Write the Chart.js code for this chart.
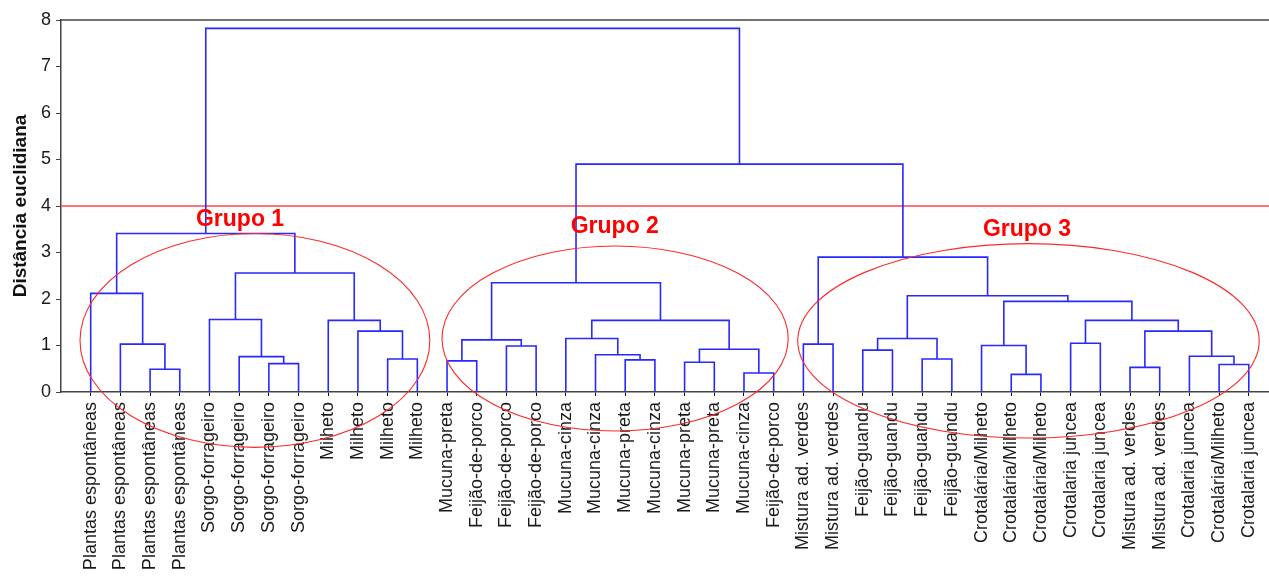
<!DOCTYPE html>
<html>
<head>
<meta charset="utf-8">
<script src="https://cdn.jsdelivr.net/npm/chart.js@4.4.1/dist/chart.umd.min.js"></script>
<style>
  html, body { margin: 0; padding: 0; background: #fff; }
</style>
</head>
<body>
<canvas id="myChart" width="1269" height="577"></canvas>
<script>
// leaves of the dendrogram, left to right
const leafLabels = [
  'Plantas espontâneas', 'Plantas espontâneas', 'Plantas espontâneas', 'Plantas espontâneas',
  'Sorgo-forrageiro', 'Sorgo-forrageiro', 'Sorgo-forrageiro', 'Sorgo-forrageiro',
  'Milheto', 'Milheto', 'Milheto', 'Milheto',
  'Mucuna-preta', 'Feijão-de-porco', 'Feijão-de-porco', 'Feijão-de-porco',
  'Mucuna-cinza', 'Mucuna-cinza', 'Mucuna-preta', 'Mucuna-cinza',
  'Mucuna-preta', 'Mucuna-preta', 'Mucuna-cinza', 'Feijão-de-porco',
  'Mistura ad. verdes', 'Mistura ad. verdes',
  'Feijão-guandu', 'Feijão-guandu', 'Feijão-guandu', 'Feijão-guandu',
  'Crotalária/Milheto', 'Crotalária/Milheto', 'Crotalária/Milheto',
  'Crotalaria juncea', 'Crotalaria juncea',
  'Mistura ad. verdes', 'Mistura ad. verdes',
  'Crotalaria juncea', 'Crotalária/Milheto', 'Crotalaria juncea'
];

// merges: node 40 + k joins mergeLeft[k] and mergeRight[k] at mergeHeight[k]
const mergeLeft = [2, 1, 0, 6, 5, 4, 10, 9, 8, 45, 42,
  12, 14, 51, 18, 17, 16, 20, 22, 57, 56, 53,
  24, 26, 28, 63, 31, 30, 33, 35, 38, 37, 69, 68, 67, 65, 62,
  61, 50];
const mergeRight = [3, 40, 41, 7, 43, 44, 11, 46, 47, 48, 49,
  13, 15, 52, 19, 54, 55, 21, 23, 58, 59, 60,
  25, 27, 29, 64, 32, 66, 34, 36, 39, 70, 71, 72, 73, 74, 75,
  76, 77];
const mergeHeight = [0.49, 1.03, 2.12, 0.61, 0.76, 1.56, 0.71, 1.31, 1.54, 2.56, 3.41,
  0.67, 0.99, 1.12, 0.69, 0.80, 1.15, 0.64, 0.41, 0.92, 1.54, 2.35,
  1.03, 0.90, 0.71, 1.15, 0.38, 1.00, 1.05, 0.53, 0.59, 0.77, 1.31, 1.54, 1.95, 2.07, 2.90,
  4.90, 7.82];

const cutHeight = 4;
const yTicks = [0, 1, 2, 3, 4, 5, 6, 7, 8];
const groupNames = ['Grupo 1', 'Grupo 2', 'Grupo 3'];

// node positions
var nodeX = [];
var nodeY = [];
for (var i = 0; i < leafLabels.length; i++) {
  nodeX.push(i + 1);
  nodeY.push(0);
}
var datasets = [];
for (var k = 0; k < mergeLeft.length; k++) {
  var a = mergeLeft[k], b = mergeRight[k], h = mergeHeight[k];
  datasets.push({
    data: [
      {x: nodeX[a], y: nodeY[a]},
      {x: nodeX[a], y: h},
      {x: nodeX[b], y: h},
      {x: nodeX[b], y: nodeY[b]}
    ],
    borderColor: 'rgb(40,40,255)',
    borderWidth: 1.6
  });
  nodeX.push((nodeX[a] + nodeX[b]) / 2);
  nodeY.push(h);
}

const xMax = 40.68;
datasets.push({
  data: [{x: 0, y: cutHeight}, {x: xMax, y: cutHeight}],
  borderColor: 'rgb(255,70,70)',
  borderWidth: 1.3
});

// ellipses and group captions, in data units
const groupMarks = {
  id: 'groupMarks',
  afterDatasetsDraw(chart) {
    const c = chart.ctx, xs = chart.scales.x, ys = chart.scales.y;
    const area = chart.chartArea;
    c.save();
    c.strokeStyle = '#444';
    c.lineWidth = 1.5;
    c.beginPath();
    c.moveTo(area.left, area.top);
    c.lineTo(area.right, area.top);
    c.stroke();

    const ells = [[6.53, 1.11, 5.89, 2.30], [18.66, 1.15, 5.83, 1.99], [32.58, 1.10, 7.77, 2.09]];
    const caps = [[6.03, 3.71], [18.65, 3.55], [32.53, 3.50]];
    c.strokeStyle = 'rgb(255,40,40)';
    c.lineWidth = 1.1;
    ells.forEach(function (e) {
      var cx = xs.getPixelForValue(e[0]), cy = ys.getPixelForValue(e[1]);
      var rx = xs.getPixelForValue(e[0] + e[2]) - cx;
      var ry = cy - ys.getPixelForValue(e[1] + e[3]);
      c.beginPath();
      c.ellipse(cx, cy, rx, ry, 0, 0, Math.PI * 2);
      c.stroke();
    });
    c.fillStyle = 'rgb(255,0,0)';
    c.font = 'bold 23px "Liberation Sans", Arial, sans-serif';
    c.textAlign = 'center';
    c.textBaseline = 'middle';
    caps.forEach(function (p, i) {
      c.fillText(groupNames[i], xs.getPixelForValue(p[0]), ys.getPixelForValue(p[1]));
    });
    c.restore();
  }
};

const ctx = document.getElementById('myChart');
new Chart(ctx, {
  type: 'scatter',
  data: { datasets: datasets },
  plugins: [groupMarks],
  options: {
    responsive: false,
    animation: false,
    showLine: true,
    elements: { point: { radius: 0 }, line: { tension: 0 } },
    layout: { padding: { top: 20, right: 0, left: 0, bottom: 0 } },
    plugins: { legend: { display: false }, tooltip: { enabled: false } },
    scales: {
      x: {
        type: 'linear',
        min: 0,
        max: xMax,
        afterBuildTicks: function (axis) {
          axis.ticks = leafLabels.map(function (_, i) { return {value: i + 1}; });
        },
        afterFit: function (scale) {
          scale.height = 185;
          scale.paddingRight = 0;
          scale.paddingLeft = 0;
        },
        grid: { drawOnChartArea: false, tickLength: 4, color: '#000', lineWidth: 1 },
        border: { color: '#444', width: 1.5 },
        ticks: {
          autoSkip: false,
          minRotation: 90,
          maxRotation: 90,
          padding: 6,
          color: '#1a1a1a',
          font: { family: '"Liberation Sans", Arial, sans-serif', size: 18 },
          callback: function (v) { return leafLabels[v - 1]; }
        }
      },
      y: {
        min: 0,
        max: 8,
        afterBuildTicks: function (axis) {
          axis.ticks = yTicks.map(function (v) { return {value: v}; });
        },
        afterFit: function (scale) { scale.width = 61; },
        grid: { drawOnChartArea: false, tickLength: 5, color: '#444' },
        border: { color: '#444', width: 1.5 },
        ticks: {
          padding: 5,
          color: '#1a1a1a',
          font: { family: '"Liberation Sans", Arial, sans-serif', size: 18 }
        },
        title: {
          display: true,
          text: 'Distância euclidiana',
          color: '#111',
          padding: { top: 9, bottom: 0 },
          font: { family: '"Liberation Sans", Arial, sans-serif', size: 19, weight: 'bold' }
        }
      }
    }
  }
});
</script>
</body>
</html>
